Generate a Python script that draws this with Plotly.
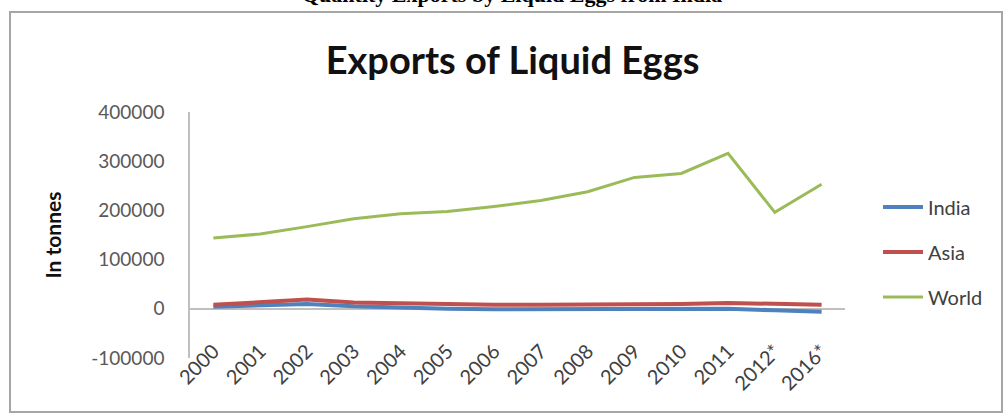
import plotly.graph_objects as go

years = ["2000", "2001", "2002", "2003", "2004", "2005", "2006", "2007",
         "2008", "2009", "2010", "2011", "2012*", "2016*"]
india = [4000, 7000, 10000, 5000, 2000, 0, -1000, -1000, -1000, -1000, 0, 0, -3000, -6000]
asia = [8000, 13000, 19000, 13000, 11000, 10000, 8000, 8000, 8000, 8000, 10000, 12000, 10000, 8000]
world = [144000, 152000, 167000, 183000, 193000, 198000, 208000, 220000,
         238000, 267000, 275000, 316000, 196000, 253000]
y_ticks = [-100000, 0, 100000, 200000, 300000, 400000]

W, H = 1003, 414
L, R, T, B = 190, 158, 112, 56
pw, ph = W - L - R, H - T - B

def px(x):
    return (x - L) / pw

def py(y):
    return (H - B - y) / ph

FONT = "Lato"

fig = go.Figure()
series = [("India", india, "#4F81BD", 4),
          ("Asia", asia, "#C0504D", 4),
          ("World", world, "#9BBB59", 3)]
for name, vals, col, w in series:
    fig.add_trace(go.Scatter(x=years, y=vals, mode="lines", name=name,
                             legendgroup=name,
                             line=dict(color=col, width=w)))

fig.update_layout(
    width=W, height=H,
    margin=dict(l=L, r=R, t=T, b=B),
    paper_bgcolor="white", plot_bgcolor="white",
    title=dict(text="<b>Exports of Liquid Eggs</b>", x=0.511, xanchor="center",
               y=1 - 61 / H, yanchor="middle",
               font=dict(family=FONT, size=38, color="#111111")),
    showlegend=True,
    legend=dict(x=px(878), y=py(252), xanchor="left", yanchor="middle",
                traceorder="grouped", tracegroupgap=16,
                font=dict(family=FONT, size=20, color="#404040"),
                bgcolor="rgba(0,0,0,0)", itemwidth=40),
    xaxis=dict(type="category", range=[-0.5, len(years) - 0.5],
               showgrid=False, showline=False, zeroline=False,
               tickangle=-45, anchor="free",
               position=(0 - y_ticks[0]) / (y_ticks[-1] - y_ticks[0]),
               ticklabelstandoff=26, ticks="",
               tickfont=dict(family=FONT, size=20, color="#404040")),
    yaxis=dict(range=[y_ticks[0], y_ticks[-1]], tickvals=y_ticks,
               ticktext=[str(v) for v in y_ticks],
               showgrid=False, showline=True, linecolor="#BFBFBF", linewidth=1.5,
               zeroline=True, zerolinecolor="#BFBFBF", zerolinewidth=1.5,
               ticks="", ticklabelstandoff=20,
               tickfont=dict(family=FONT, size=19, color="#595959"),
               title=dict(text="<b>In tonnes</b>", standoff=24,
                          font=dict(family=FONT, size=21, color="#111111"))),
)

# outer chart frame
fig.add_shape(type="rect", xref="paper", yref="paper",
              x0=px(10), x1=px(1002), y0=py(412), y1=py(12),
              line=dict(color="#A6A6A6", width=2), fillcolor="rgba(0,0,0,0)",
              layer="below")

# caption above the frame (cut off by the top edge, as in the source)
fig.add_annotation(text="<b>Quantity Exports by Liquid Eggs from India</b>",
                   xref="paper", yref="paper", x=px(512), y=py(9),
                   xanchor="center", yanchor="bottom", showarrow=False,
                   font=dict(family="Liberation Serif", size=22, color="black"))

fig.write_html("out.html")
